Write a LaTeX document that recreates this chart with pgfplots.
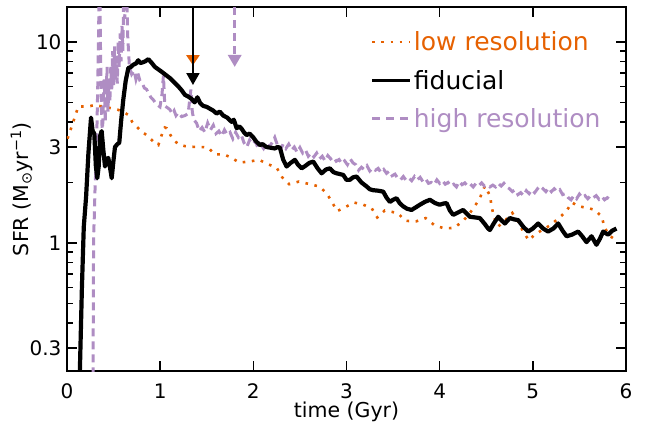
\documentclass[border=0pt]{standalone}
\usepackage{fontspec}
\setmainfont{DejaVu Sans}
\usepackage{pgfplots}
\usepackage{pgfplotstable}
\pgfplotsset{compat=1.18}
\usetikzlibrary{arrows.meta}
\definecolor{lowc}{HTML}{E66101}
\definecolor{highc}{HTML}{AF8DC3}

\pgfplotstableread{
x y
0.137 0.22
0.16 0.6
0.18 1.2
0.205 1.7
0.23 2.8
0.258 4.2
0.275 3.6
0.293 3.5
0.31 2.4
0.325 2.1
0.34 2.4
0.355 3.4
0.372 3.6
0.39 2.9
0.408 2.4
0.425 2.6
0.443 2.65
0.46 2.4
0.48 2.1
0.50 2.6
0.515 3.0
0.54 3.1
0.561 3.15
0.58 4.0
0.604 5.15
0.63 6.4
0.658 7.4
0.685 7.5
0.712 7.7
0.74 7.8
0.765 8.1
0.785 7.85
0.81 7.9
0.84 8.0
0.873 8.2
0.91 7.85
0.944 7.5
0.98 7.3
1.016 7.1
1.06 6.85
1.105 6.6
1.15 6.3
1.195 6.0
1.23 5.75
1.266 5.45
1.30 5.35
1.338 5.2
1.37 5.0
1.40 5.3
1.43 4.95
1.463 4.8
1.50 4.75
1.534 4.65
1.57 4.55
1.606 4.4
1.64 4.5
1.677 4.3
1.72 4.2
1.767 4.0
1.79 4.1
1.821 3.72
1.85 3.8
1.874 3.7
1.90 3.55
1.928 3.44
1.96 3.5
1.999 3.35
2.03 3.2
2.07 3.07
2.10 3.1
2.14 3.0
2.18 2.98
2.23 2.95
2.26 3.0
2.285 2.98
2.32 2.6
2.357 2.4
2.40 2.5
2.446 2.59
2.48 2.45
2.518 2.35
2.56 2.42
2.60 2.5
2.643 2.54
2.69 2.35
2.733 2.22
2.78 2.32
2.822 2.35
2.86 2.25
2.894 2.22
2.93 2.2
2.965 2.18
3.0 2.06
3.036 2.06
3.07 2.12
3.108 2.14
3.16 2.0
3.216 1.91
3.25 1.85
3.287 1.83
3.34 1.82
3.394 1.8
3.43 1.68
3.466 1.6
3.50 1.64
3.537 1.67
3.57 1.58
3.609 1.52
3.65 1.48
3.698 1.46
3.74 1.5
3.788 1.55
3.84 1.6
3.895 1.64
3.95 1.58
4.0 1.55
4.04 1.57
4.074 1.58
4.11 1.45
4.145 1.38
4.20 1.42
4.252 1.46
4.29 1.40
4.324 1.35
4.38 1.34
4.431 1.33
4.48 1.25
4.52 1.18
4.539 1.16
4.58 1.25
4.628 1.35
4.66 1.30
4.70 1.25
4.753 1.33
4.80 1.31
4.842 1.30
4.90 1.20
4.95 1.14
5.0 1.18
5.057 1.25
5.11 1.18
5.164 1.14
5.22 1.18
5.272 1.25
5.32 1.15
5.362 1.08
5.42 1.10
5.486 1.14
5.53 1.08
5.576 1.01
5.63 1.08
5.683 0.98
5.72 1.05
5.755 1.14
5.78 1.12
5.808 1.10
5.85 1.15
5.898 1.18
}\fiducial

\pgfplotstableread{
x y
0.280 0.22
0.283 0.6
0.286 1.1
0.292 1.3
0.300 1.8
0.310 2.4
0.320 3.5
0.330 6
0.340 12
0.347 20
0.352 20
0.360 9
0.370 4.5
0.380 3.4
0.390 5
0.400 6.5
0.410 4.0
0.420 5.5
0.430 7.5
0.440 4.5
0.450 6.5
0.460 5.0
0.470 7.5
0.480 5.8
0.490 9
0.500 6
0.510 9.5
0.520 6.5
0.530 8.5
0.540 6.2
0.550 10
0.560 7.5
0.570 11
0.580 8
0.590 12
0.600 9
0.610 20
0.620 13
0.630 20
0.640 20
0.650 11
0.670 7.5
0.694 6.9
0.72 7.2
0.74 6.5
0.76 7.0
0.783 6.4
0.81 6.2
0.83 5.9
0.855 5.8
0.88 5.5
0.90 5.3
0.926 5.15
0.96 4.9
0.998 4.75
1.02 5.5
1.035 6.8
1.05 4.8
1.08 4.7
1.105 4.6
1.13 4.4
1.15 4.55
1.17 4.3
1.195 4.45
1.23 4.25
1.266 4.3
1.30 4.4
1.33 5.8
1.345 4.5
1.36 4.1
1.39 3.95
1.42 3.6
1.45 3.75
1.48 3.55
1.51 3.95
1.54 3.65
1.57 3.85
1.60 3.5
1.63 3.6
1.66 3.4
1.69 3.65
1.72 3.45
1.75 3.55
1.78 3.3
1.81 3.55
1.84 3.35
1.87 3.45
1.90 3.15
1.93 3.0
1.96 3.25
1.99 3.1
2.02 3.2
2.05 2.98
2.08 3.1
2.11 2.95
2.14 3.12
2.17 3.0
2.20 3.15
2.23 3.35
2.26 3.05
2.29 2.9
2.32 3.1
2.35 2.95
2.38 3.1
2.41 2.9
2.44 3.0
2.47 2.82
2.50 2.98
2.53 2.8
2.56 2.9
2.59 2.7
2.62 2.8
2.65 2.68
2.68 2.8
2.71 2.62
2.74 2.7
2.77 2.56
2.80 2.72
2.83 2.62
2.86 2.68
2.89 2.55
2.92 2.6
2.95 2.48
2.98 2.56
3.01 2.45
3.04 2.62
3.07 2.5
3.10 2.45
3.13 2.3
3.16 2.38
3.19 2.32
3.22 2.42
3.25 2.28
3.28 2.36
3.31 2.3
3.34 2.35
3.37 2.24
3.40 2.32
3.43 2.22
3.46 2.28
3.49 2.16
3.52 2.2
3.55 2.1
3.58 2.06
3.61 2.14
3.64 2.05
3.67 2.1
3.70 2.04
3.73 2.14
3.76 2.06
3.79 2.12
3.82 2.02
3.85 2.08
3.88 1.98
3.91 2.0
3.94 1.95
3.97 2.06
4.00 1.98
4.03 2.04
4.06 1.96
4.09 2.0
4.12 1.92
4.15 1.96
4.18 1.9
4.21 2.02
4.24 1.95
4.27 1.99
4.30 1.92
4.33 1.96
4.36 1.9
4.39 1.98
4.42 1.93
4.45 1.99
4.48 1.92
4.51 1.95
4.54 1.9
4.57 1.94
4.60 1.9
4.63 1.98
4.66 1.92
4.69 1.98
4.72 1.9
4.75 1.86
4.78 1.8
4.81 1.84
4.84 1.74
4.87 1.78
4.90 1.72
4.93 1.82
4.96 1.76
4.99 1.84
5.02 1.78
5.05 1.86
5.08 1.8
5.11 1.86
5.14 1.8
5.17 1.88
5.20 1.8
5.23 1.86
5.26 1.8
5.29 1.84
5.32 1.74
5.35 1.76
5.38 1.68
5.41 1.64
5.44 1.72
5.47 1.66
5.50 1.75
5.53 1.68
5.56 1.72
5.59 1.66
5.62 1.72
5.65 1.68
5.68 1.72
5.71 1.65
5.74 1.7
5.77 1.64
5.80 1.68
5.83 1.64
5.86 1.66
}\highres

\pgfplotstableread{
x y
0.005 3.3
0.05 3.79
0.086 4.25
0.121 4.77
0.165 4.77
0.21 4.77
0.255 4.8
0.30 4.86
0.345 4.8
0.39 4.77
0.47 4.68
0.55 4.59
0.60 4.5
0.658 4.33
0.70 4.0
0.73 3.86
0.77 3.7
0.80 3.58
0.85 3.45
0.89 3.32
0.94 3.15
0.98 3.07
1.016 3.44
1.05 3.75
1.07 3.72
1.12 3.38
1.16 3.2
1.21 3.07
1.27 3.03
1.32 3.01
1.43 3.0
1.51 2.99
1.588 2.76
1.677 2.76
1.756 2.67
1.849 2.51
1.956 2.54
2.063 2.59
2.16 2.46
2.25 2.37
2.31 2.12
2.385 1.96
2.49 2.02
2.607 1.96
2.707 1.91
2.786 1.77
2.843 1.6
2.9 1.44
2.99 1.51
3.08 1.59
3.18 1.55
3.27 1.49
3.33 1.34
3.41 1.45
3.55 1.41
3.63 1.29
3.745 1.28
3.85 1.33
3.94 1.23
4.05 1.18
4.155 1.19
4.246 1.28
4.316 1.39
4.407 1.6
4.44 1.71
4.485 1.92
4.54 1.72
4.557 1.53
4.58 1.35
4.63 1.21
4.70 1.29
4.78 1.41
4.84 1.28
4.896 1.14
4.957 1.03
5.02 1.10
5.10 1.16
5.18 1.22
5.28 1.33
5.36 1.44
5.42 1.59
5.49 1.52
5.576 1.50
5.665 1.46
5.74 1.35
5.77 1.19
5.83 1.08
5.9 1.03
}\lowres

\pgfplotstableread{
x y
1.352 14.9
1.352 7.65
}\lowarrow
\pgfplotstableread{
x y
1.352 14.9
1.352 6.1
}\fidarrow
\pgfplotstableread{
x y
1.8 14.9
1.8 7.5
}\higharrow

\begin{document}
\begin{tikzpicture}
\begin{axis}[
  scale only axis, width=559pt, height=364pt,
  ymode=log, xmin=0, xmax=6, ymin=0.231, ymax=14.9,
  axis line style={line width=2.5pt},
  tick style={line width=1.5pt, black},
  tick align=inside,
  major tick length=10pt, minor tick length=6pt,
  xtick={0,1,2,3,4,5,6},
  ytick={0.3,1,3,10}, yticklabels={0.3,1,3,10},
  minor ytick={0.4,0.5,0.6,0.7,0.8,0.9,2,4,5,6,7,8,9},
  /pgf/number format/assume math mode=true,
  ticklabel style={font=\fontsize{20}{24}\selectfont},
  xticklabel style={yshift=-9pt},
  yticklabel style={xshift=-2pt},
  label style={font=\fontsize{20.5}{24}\selectfont},
  xlabel={time (Gyr)},
  ylabel={SFR (M\textsubscript{⊙}yr\textsuperscript{−1})},
  xlabel style={yshift=4pt},
  ylabel style={yshift=-10pt},
  legend cell align=left,
  legend image code/.code={\draw[#1] (0pt,0pt) -- (38pt,0pt);},
  legend style={draw=none, fill=none, at={(rel axis cs:0.537,0.944)}, anchor=north west,
    font=\fontsize{25}{30}\selectfont, row sep=14pt},
]
\addlegendimage{lowc, line width=2.6pt, dash pattern=on 2.6pt off 6.6pt}
\addlegendentry{\textcolor{lowc}{low resolution}}
\addlegendimage{black, line width=3.5pt}
\addlegendentry{fiducial}
\addlegendimage{highc, line width=3pt, dash pattern=on 8pt off 6pt}
\addlegendentry{\textcolor{highc}{high resolution}}

\addplot[forget plot, lowc, line width=2.6pt, dash pattern=on 2.6pt off 6.6pt] table {\lowres};
\addplot[forget plot, highc, line width=3pt, dash pattern=on 8pt off 5pt] table {\highres};
\addplot[forget plot, black, line width=4.2pt, line join=round] table {\fiducial};

\addplot[forget plot, lowc, line width=2pt, -{Triangle[length=10pt,width=13pt]}] table {\lowarrow};
\addplot[forget plot, black, line width=2pt, -{Triangle[length=12pt,width=13pt]}] table {\fidarrow};
\addplot[forget plot, highc, line width=3pt, dash pattern=on 8pt off 5pt, -{Triangle[length=12pt,width=13pt]}] table {\higharrow};
\end{axis}
\pgfresetboundingbox
\path[use as bounding box] ([shift={(-67pt,-53pt)}]current axis.south west) rectangle ([shift={(20pt,7pt)}]current axis.north east);
\end{tikzpicture}
\end{document}
